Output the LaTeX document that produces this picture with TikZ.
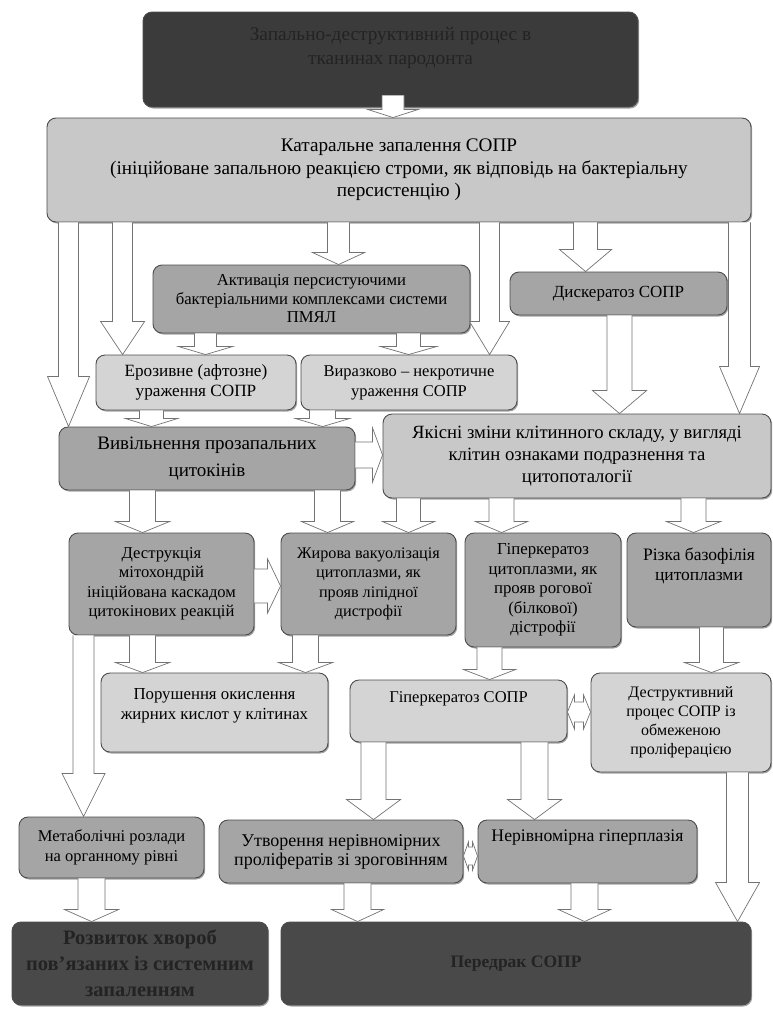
\documentclass[tikz,border=0pt]{standalone}
\usepackage{fontspec}
\setmainfont{Liberation Serif}
\usetikzlibrary{calc, shadows}

\definecolor{darkgr}{HTML}{494949}
\definecolor{topgr}{HTML}{3B3B3B}
\definecolor{midgr}{HTML}{A5A5A5}
\definecolor{lightgr}{HTML}{D4D4D4}
\definecolor{paltgr}{HTML}{C8C8C8}
\definecolor{txtdark}{HTML}{232323}
\definecolor{edgegr}{HTML}{4D4D4D}

\tikzstyle{box} = [rectangle, rounded corners=9pt, draw=edgegr, line width=0.9pt, align=center, inner sep=2pt, drop shadow={shadow xshift=1.2pt, shadow yshift=-1.5pt, fill=black!60, opacity=0.6}]
\tikzstyle{darkbox} = [box, fill=darkgr, text=txtdark]
\tikzstyle{midbox} = [box, fill=midgr]
\tikzstyle{lightbox} = [box, fill=lightgr]
\tikzstyle{blockarrow} = [draw=black!55, fill=white, line width=0.7pt]

% hollow block arrows: shaft half width, head half width, head length
\tikzset{
  arrdown/.style n args={3}{blockarrow, to path={let \p1=(\tikztostart), \p2=(\tikztotarget) in
    (\x1-#1pt,\y1) -- (\x1-#1pt,\y2+#3pt) -- (\x1-#2pt,\y2+#3pt) -- (\x1,\y2)
    -- (\x1+#2pt,\y2+#3pt) -- (\x1+#1pt,\y2+#3pt) -- (\x1+#1pt,\y1)}},
  arrright/.style n args={3}{blockarrow, to path={let \p1=(\tikztostart), \p2=(\tikztotarget) in
    (\x1,\y1+#1pt) -- (\x2-#3pt,\y1+#1pt) -- (\x2-#3pt,\y1+#2pt) -- (\x2,\y1)
    -- (\x2-#3pt,\y1-#2pt) -- (\x2-#3pt,\y1-#1pt) -- (\x1,\y1-#1pt)}},
  arrboth/.style n args={3}{blockarrow, to path={let \p1=(\tikztostart), \p2=(\tikztotarget) in
    (\x1,\y1) -- (\x1+#3pt,\y1+#2pt) -- (\x1+#3pt,\y1+#1pt) -- (\x2-#3pt,\y1+#1pt) -- (\x2-#3pt,\y1+#2pt)
    -- (\x2,\y1) -- (\x2-#3pt,\y1-#2pt) -- (\x2-#3pt,\y1-#1pt) -- (\x1+#3pt,\y1-#1pt) -- (\x1+#3pt,\y1-#2pt) -- cycle}}
}

\begin{document}
\begin{tikzpicture}[x=1pt, y=1pt]
\useasboundingbox (0,0) rectangle (773,-1010);

% Nodes
\node (top) [darkbox, fill=topgr, minimum width=495pt, minimum height=95pt, font=\fontsize{19.3}{24}\selectfont] at (390.5,-59.5) {Запально-деструктивний процес в\\тканинах пародонта\\[4pt]\mbox{}};
\node (kataral) [lightbox, fill=paltgr, minimum width=704pt, minimum height=104pt, font=\fontsize{19.2}{22.5}\selectfont] at (399,-170) {Катаральне запалення СОПР\\(ініційоване запальною реакцією строми, як відповідь на бактеріальну\\персистенцію )};
\node (aktyv) [midbox, minimum width=317pt, minimum height=68pt, font=\fontsize{16.7}{18.5}\selectfont] at (311.5,-299) {Активація персистуючими\\бактеріальними комплексами  системи\\ПМЯЛ};
\node (dysker) [midbox, minimum width=217pt, minimum height=43pt, font=\fontsize{17}{20}\selectfont] at (618.5,-293.5) {Дискератоз СОПР};
\node (eroz) [lightbox, minimum width=200pt, minimum height=55pt, font=\fontsize{17.2}{20}\selectfont] at (196,-382.5) {Ерозивне (афтозне)\\ураження СОПР};
\node (vyraz) [lightbox, minimum width=216pt, minimum height=55pt, font=\fontsize{16.5}{20}\selectfont] at (409,-382.5) {Виразково – некротичне\\ураження СОПР};
\node (vyvil) [midbox, minimum width=296pt, minimum height=63pt, font=\fontsize{19}{27}\selectfont] at (207,-458.5) {Вивільнення прозапальних\\цитокінів};
\node (yakisni) [lightbox, fill=paltgr, minimum width=388pt, minimum height=84pt, font=\fontsize{18.7}{22}\selectfont] at (577,-456) {Якісні зміни клітинного складу, у вигляді\\клітин  ознаками подразнення та\\цитопоталогії};
\node (destr) [midbox, minimum width=185pt, minimum height=102pt, font=\fontsize{16.6}{19.5}\selectfont] at (161.5,-584) {Деструкція\\мітохондрій\\ініційована каскадом\\цитокінових реакцій};
\node (zhyrova) [midbox, minimum width=175pt, minimum height=102pt, font=\fontsize{16.2}{19.5}\selectfont] at (368.5,-584) {Жирова вакуолізація\\цитоплазми, як\\прояв ліпідної\\дистрофії};
\node (giperc) [midbox, minimum width=156pt, minimum height=114pt, font=\fontsize{16.8}{19.5}\selectfont] at (543,-590) {Гіперкератоз\\цитоплазми, як\\прояв рогової\\(білкової)\\дістрофії};
\node (rizka) [midbox, minimum width=144pt, minimum height=94pt, font=\fontsize{17.5}{19.5}\selectfont] at (699,-580) {Різка базофілія\\цитоплазми\\[12pt]\mbox{}};
\node (porush) [lightbox, minimum width=227pt, minimum height=79pt, font=\fontsize{16.8}{20}\selectfont] at (214.5,-712.5) {Порушення окислення\\жирних кислот у клітинах\\[-2pt]\mbox{}};
\node (giperk) [lightbox, minimum width=217pt, minimum height=62pt, font=\fontsize{16.5}{19.5}\selectfont] at (458.5,-711) {Гіперкератоз СОПР\\[8pt]\mbox{}};
\node (destruk) [lightbox, minimum width=180pt, minimum height=99pt, font=\fontsize{16}{19}\selectfont] at (681,-722.5) {Деструктивний\\процес  СОПР із\\обмеженою\\проліферацією};
\node (metab) [midbox, minimum width=185pt, minimum height=61pt, font=\fontsize{16.5}{20}\selectfont] at (111.5,-847.5) {Метаболічні розлади\\на органному рівні};
\node (utvor) [midbox, minimum width=244pt, minimum height=63pt, font=\fontsize{18}{19}\selectfont] at (341,-851.5) {Утворення нерівномірних\\проліфератів зі зроговінням};
\node (nerivn) [midbox, minimum width=219pt, minimum height=63pt, font=\fontsize{17.7}{19.5}\selectfont] at (587.5,-851.5) {Нерівномірна гіперплазія\\[12pt]\mbox{}};
\node (rozvytok) [darkbox, minimum width=256pt, minimum height=83pt, font=\bfseries\fontsize{20.5}{26}\selectfont] at (140,-963.5) {Розвиток хвороб\\пов'язаних із системним\\запаленням};
\node (peredrak) [darkbox, minimum width=470pt, minimum height=83pt, font=\bfseries\fontsize{17.5}{26}\selectfont] at (516,-963.5) {Передрак СОПР};

% Arrows
\draw [arrdown={11}{25}{8}] ([xshift=2.5pt, yshift=12pt]top.south) to (kataral.north);
\draw [arrdown={10}{21}{50}] ([xshift=22pt]kataral.south west) to (vyvil.north);
\draw [arrdown={10}{22}{33}] ([xshift=76pt]kataral.south west) to (eroz.north);
\draw [arrdown={11}{26}{12}] ([xshift=292pt]kataral.south west) to (aktyv.north);
\draw [arrdown={10}{20}{33}] ([xshift=443pt]kataral.south west) to (vyraz.north);
\draw [arrdown={12}{26}{22}] ([xshift=539pt]kataral.south west) to (dysker.north);
\draw [arrdown={11}{20}{47}] ([xshift=693pt]kataral.south west) to (yakisni.north);
\draw [arrdown={11}{27}{8}] ([xshift=53pt]aktyv.south west) to (eroz.north);
\draw [arrdown={12}{28}{8}] ([xshift=256pt]aktyv.south west) to (vyraz.north);
\draw [arrdown={12.5}{27}{23}] ([xshift=110pt]dysker.south west) to (yakisni.north);
\draw [arrdown={12}{26}{8}] ([xshift=56pt]eroz.south west) to (vyvil.north);
\draw [arrdown={13}{27}{8}] ([xshift=22pt]vyraz.south west) to (vyvil.north);
\draw [arrright={13}{27}{10}] ([yshift=3.5pt]vyvil.east) to (yakisni.west);
\draw [arrdown={13}{27}{11}] ([xshift=84pt]vyvil.south west) to (destr.north);
\draw [arrdown={13}{26}{11}] ([xshift=269pt]vyvil.south west) to (zhyrova.north);
\draw [arrdown={12}{26}{11}] ([xshift=26pt]yakisni.south west) to (zhyrova.north);
\draw [arrdown={12.5}{26}{11}] ([xshift=119pt]yakisni.south west) to (giperc.north);
\draw [arrdown={12.5}{27}{11}] ([xshift=311pt]yakisni.south west) to (rizka.north);
\draw [arrright={17}{27}{13}] ([yshift=-2pt]destr.east) to (zhyrova.west);
\draw [arrdown={13}{27}{10}] ([xshift=74pt]destr.south west) to (porush.north);
\draw [arrdown={13}{27}{10}] ([xshift=25pt]zhyrova.south west) to (porush.north);
\draw [arrdown={12.5}{26}{10}] ([xshift=25pt]giperc.south west) to (giperk.north);
\draw [arrdown={12}{27}{10}] ([xshift=85pt]rizka.south west) to (destruk.north);
\draw [arrboth={10}{17}{7}] ([yshift=-1pt]giperk.east) to (destruk.west);
\draw [arrdown={10.5}{21.5}{43}] ([xshift=15pt]destr.south west) to (metab.north);
\draw [arrdown={12.5}{27}{20}] ([xshift=24pt]giperk.south west) to (utvor.north);
\draw [arrdown={13.5}{27}{20}] ([xshift=185pt]giperk.south west) to (nerivn.north);
\draw [arrdown={11}{22}{39}] ([xshift=147pt]destruk.south west) to (peredrak.north);
\draw [arrboth={9}{14}{5}] ([yshift=-4.5pt]utvor.east) to (nerivn.west);
\draw [arrdown={13.5}{27}{12}] ([xshift=73pt]metab.south west) to (rozvytok.north);
\draw [arrdown={13.5}{26}{12}] ([xshift=139pt]utvor.south west) to (peredrak.north);
\draw [arrdown={13.5}{26}{12}] ([xshift=107pt]nerivn.south west) to (peredrak.north);

\end{tikzpicture}
\end{document}
